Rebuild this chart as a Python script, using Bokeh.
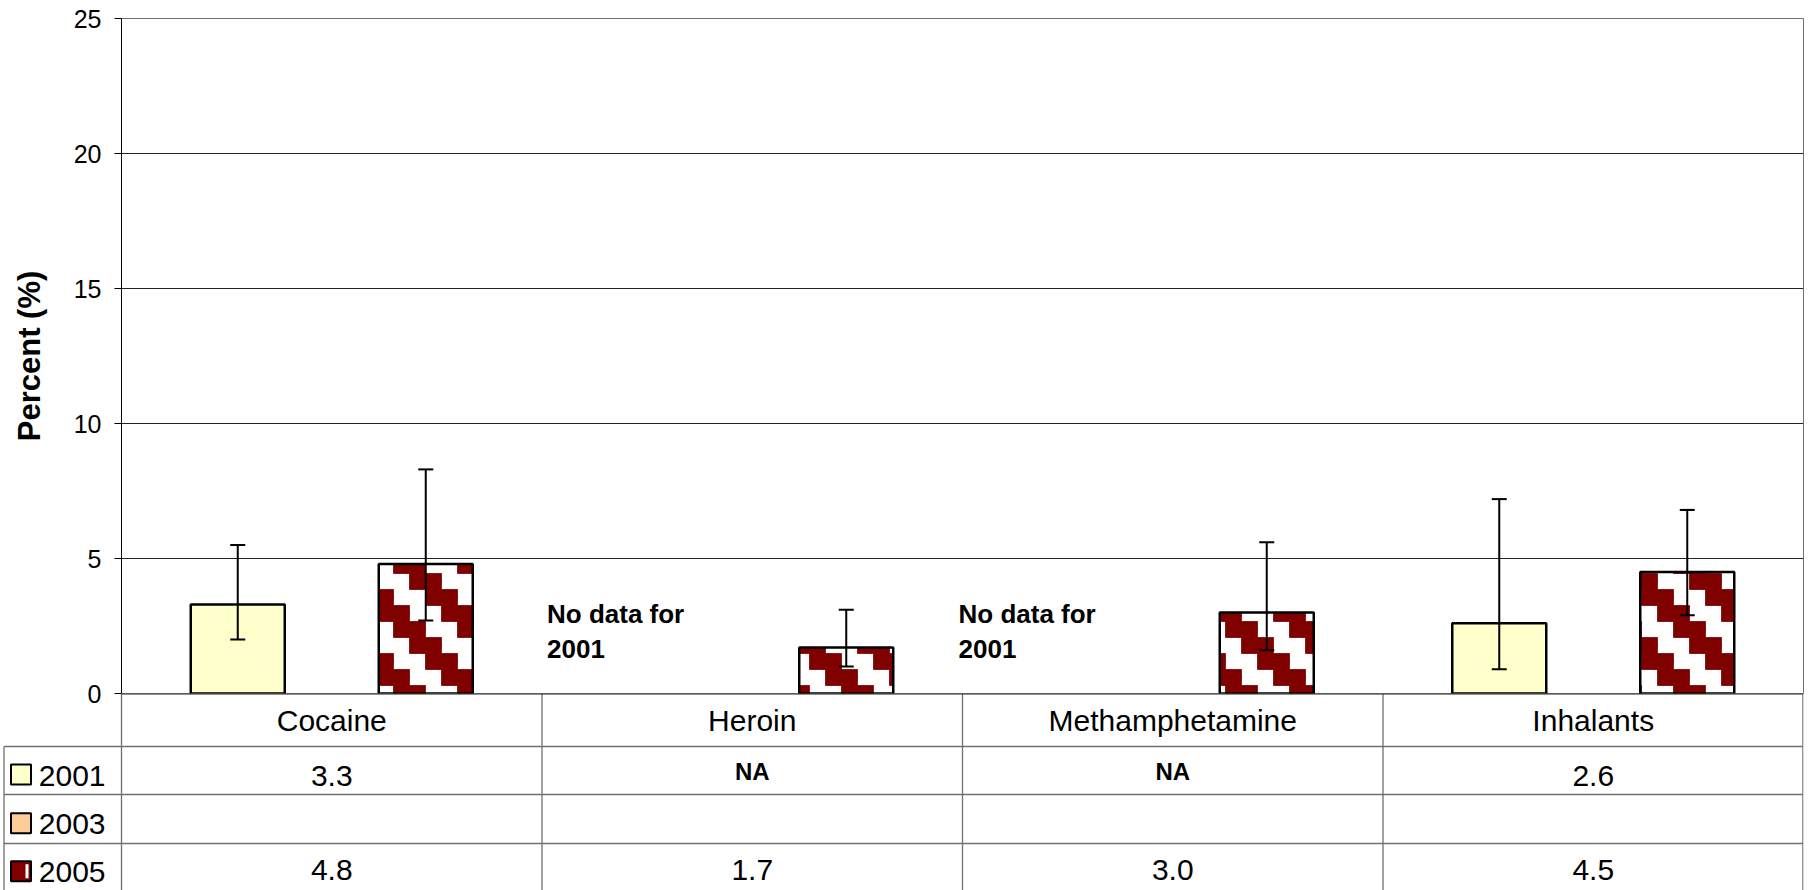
import math

from bokeh.plotting import figure
from bokeh.models import ColumnDataSource, FactorRange, Range1d, FixedTicker, Whisker, TeeHead
from bokeh.transform import dodge
from bokeh.layouts import column
from bokeh.core.properties import value
from bokeh.embed import file_html
from bokeh.resources import INLINE

# ---------------- data ----------------
categories = ["Cocaine", "Heroin", "Methamphetamine", "Inhalants"]
years = ["2001", "2003", "2005"]
pct_2001 = [3.3, None, None, 2.6]
pct_2003 = [None, None, None, None]
pct_2005 = [4.8, 1.7, 3.0, 4.5]
lower_2001 = [2.0, None, None, 0.9]
upper_2001 = [5.5, None, None, 7.2]
lower_2005 = [2.7, 1.0, 1.6, 2.9]
upper_2005 = [8.3, 3.1, 5.6, 6.8]
no_data_categories = ["Heroin", "Methamphetamine"]
no_data_year = "2001"
y_ticks = [0, 5, 10, 15, 20, 25]

# ---------------- style / layout ----------------
FONT = "Liberation Sans"
year_colors = ["#FFFFCC", "#FFCC99", "#800000"]
HATCH_COLOR = "#800000"
GRID_COLOR = "#222222"
TABLE_LINE = "#707070"
W = 1811
ZERO_Y = 693           # page y of the zero line
BELOW = 14             # room under the chart frame for the "0" tick label
CHART_H = ZERO_Y + BELOW
TABLE_H = 890 - ZERO_Y
LEFT = 121
RIGHT = 8
TOP = 18
PX_PER_UNIT = (ZERO_Y - TOP) / 25.0
CAT_PX = (W - LEFT - RIGHT) / len(categories)
BAR_PX = 94
BAR_W = BAR_PX / CAT_PX
SERIES_OFF = 94 / CAT_PX
TEXT_DY = 9.0   # compensation for renderer baseline placement (px)
# stepped-diagonal fill pattern of the 2005 series (page-anchored 16px cells)
CELL = 16
PAT_X0 = 9
PAT_Y0 = 573

p = figure(width=W, height=CHART_H, x_range=FactorRange(*categories, range_padding=0),
           y_range=Range1d(0, 25), x_axis_location=None,
           min_border_left=LEFT, min_border_right=RIGHT, min_border_top=TOP, min_border_bottom=BELOW,
           toolbar_location=None, output_backend="svg", outline_line_color=TABLE_LINE,
           frame_align=False)
p.xgrid.grid_line_color = None
p.ygrid.ticker = FixedTicker(ticks=y_ticks)
p.ygrid.grid_line_color = GRID_COLOR
p.ygrid.grid_line_width = 1
ax = p.yaxis[0]
ax.ticker = FixedTicker(ticks=y_ticks)
ax.minor_tick_line_color = None
ax.major_tick_in = 0
ax.major_tick_out = 7
ax.major_tick_line_color = "black"
ax.axis_line_color = "black"
ax.major_label_text_font = FONT
ax.major_label_text_font_size = "25px"
ax.major_label_text_color = "black"
ax.major_label_standoff = 13
ax.axis_label = "Percent (%)"
ax.axis_label_text_font = FONT
ax.axis_label_text_font_style = "bold"
ax.axis_label_text_font_size = "31px"
ax.axis_label_text_color = "black"
ax.axis_label_standoff = 24


def keep(cats, vals, lo, hi):
    d = dict(cat=[], v=[], lo=[], hi=[])
    for c, v, l, h in zip(cats, vals, lo, hi):
        if v is not None:
            d["cat"].append(c); d["v"].append(v); d["lo"].append(l); d["hi"].append(h)
    return ColumnDataSource(d)


src01 = keep(categories, pct_2001, lower_2001, upper_2001)
src05 = keep(categories, pct_2005, lower_2005, upper_2005)


def stair_cells(vals, off):
    """Dark runs of the stepped diagonal fill, clipped to each bar (synthetic x, data y)."""
    d = dict(left=[], right=[], top=[], bottom=[])
    for ci, v in enumerate(vals):
        if v is None:
            continue
        cx = LEFT + (ci + 0.5 + off) * CAT_PX
        x0, x1 = cx - BAR_PX / 2, cx + BAR_PX / 2
        y0, y1 = ZERO_Y - v * PX_PER_UNIT, ZERO_Y
        for r in range(math.floor((y0 - PAT_Y0) / CELL), math.floor((y1 - PAT_Y0) / CELL) + 1):
            cy0 = max(PAT_Y0 + CELL * r, y0)
            cy1 = min(PAT_Y0 + CELL * (r + 1), y1)
            if cy1 <= cy0:
                continue
            runs = []
            for c in range(math.floor((x0 - PAT_X0) / CELL), math.floor((x1 - PAT_X0) / CELL) + 1):
                if (c - r) % 4 not in (1, 2):
                    continue
                cx0 = max(PAT_X0 + CELL * c, x0)
                cx1 = min(PAT_X0 + CELL * (c + 1), x1)
                if cx1 <= cx0:
                    continue
                if runs and abs(runs[-1][1] - cx0) < 1e-9:
                    runs[-1][1] = cx1
                else:
                    runs.append([cx0, cx1])
            for a, b in runs:
                d["left"].append((a - LEFT) / CAT_PX)
                d["right"].append((b - LEFT) / CAT_PX)
                d["top"].append((ZERO_Y - cy0) / PX_PER_UNIT)
                d["bottom"].append((ZERO_Y - cy1) / PX_PER_UNIT)
    return ColumnDataSource(d)


p.vbar(x=dodge("cat", -SERIES_OFF, range=p.x_range), top="v", width=BAR_W, bottom=0,
       source=src01, fill_color=year_colors[0], line_color="black", line_width=2.5)
p.vbar(x=dodge("cat", SERIES_OFF, range=p.x_range), top="v", width=BAR_W, bottom=0,
       source=src05, fill_color="white", line_color=None)
p.quad(left="left", right="right", top="top", bottom="bottom", source=stair_cells(pct_2005, SERIES_OFF),
       fill_color=HATCH_COLOR, line_color=HATCH_COLOR, line_width=0.8)
p.vbar(x=dodge("cat", SERIES_OFF, range=p.x_range), top="v", width=BAR_W, bottom=0,
       source=src05, fill_color=None, line_color="black", line_width=2.5)

for src, off in ((src01, -SERIES_OFF), (src05, SERIES_OFF)):
    w = Whisker(source=src, base=dodge("cat", off, range=p.x_range), upper="hi", lower="lo",
                dimension="height", line_color="black", line_width=2, level="overlay",
                upper_head=TeeHead(size=15, line_width=2, line_color="black"),
                lower_head=TeeHead(size=15, line_width=2, line_color="black"))
    p.add_layout(w)

note_dx_px = [5, -4]
note_line1_y = (ZERO_Y - 622.3 + TEXT_DY) / PX_PER_UNIT
note_line2_y = (ZERO_Y - 657.3 + TEXT_DY) / PX_PER_UNIT
for cat, dx in zip(no_data_categories, note_dx_px):
    s = ColumnDataSource(dict(cat=[cat, cat], y=[note_line1_y, note_line2_y],
                              t=["No data for", no_data_year]))
    p.text(x=dodge("cat", -0.5 + dx / CAT_PX, range=p.x_range), y="y", text="t", source=s,
           text_font=value(FONT), text_font_style="bold", text_font_size="26px",
           text_color="black", text_align="left", text_baseline="alphabetic")

# ---------------- data table below (overlaps the chart's bottom border) ----------------
# table y units: pixels below the zero line
t = figure(width=W, height=TABLE_H, x_range=Range1d(-LEFT / CAT_PX, len(categories)),
           y_range=Range1d(TABLE_H, 0), x_axis_type=None, y_axis_type=None,
           min_border_left=0, min_border_right=RIGHT, min_border_top=0, min_border_bottom=0,
           toolbar_location=None, output_backend="svg", outline_line_color=None,
           background_fill_color=None, border_fill_color=None,
           frame_align=False, styles={"margin-top": f"-{BELOW}px"})

row_lines = [53, 101, 150]
left_edge = (3.5 - LEFT) / CAT_PX
right_edge = len(categories) - 0.6 / CAT_PX
vx = list(range(len(categories))) + [right_edge]
t.segment(x0=vx, y0=[0] * len(vx), x1=vx, y1=[TABLE_H + 2] * len(vx), line_color=TABLE_LINE, line_width=1.3)
t.segment(x0=[left_edge], y0=[row_lines[0]], x1=[left_edge], y1=[TABLE_H + 2], line_color=TABLE_LINE, line_width=1.3)
t.segment(x0=[left_edge] * 3, y0=row_lines, x1=[right_edge] * 3, y1=row_lines, line_color=TABLE_LINE, line_width=1.3)
t.segment(x0=[0], y0=[0.5], x1=[right_edge], y1=[0.5], line_color=GRID_COLOR, line_width=1)

centers = [i + 0.5 for i in range(len(categories))]
t.text(x=centers, y=[36.3 - TEXT_DY] * 4, text=categories, text_font=value(FONT), text_font_size="30px",
       text_color="black", text_align="center", text_baseline="alphabetic")

row_baselines = [91.3, 139.7, 185.3]
na_baseline_shift = -4.3
for vals, base in zip([pct_2001, pct_2003, pct_2005], row_baselines):
    xs, ts, xn = [], [], []
    for c, v in zip(centers, vals):
        if v is not None:
            xs.append(c); ts.append(f"{v:.1f}")
        elif vals is not pct_2003:
            xn.append(c)
    if xs:
        t.text(x=xs, y=[base - TEXT_DY] * len(xs), text=ts, text_font=value(FONT), text_font_size="30px",
               text_color="black", text_align="center", text_baseline="alphabetic")
    if xn:
        t.text(x=xn, y=[base + na_baseline_shift - TEXT_DY] * len(xn), text=["NA"] * len(xn),
               text_font=value(FONT), text_font_style="bold", text_font_size="24px",
               text_color="black", text_align="center", text_baseline="alphabetic")

# legend keys in the left column
key_px = 20
key_x = (20.5 - LEFT) / CAT_PX
text_x = (38.3 - LEFT) / CAT_PX
legend_baselines = [91.3, 139.7, 187.7]
key_centers = [81, 129.7, 177.7]
t.rect(x=[key_x] * 3, y=key_centers, width=key_px / CAT_PX, height=key_px,
       fill_color=year_colors, line_color="black", line_width=2)
t.rect(x=[key_x + 6 / CAT_PX], y=[key_centers[2]], width=3 / CAT_PX, height=key_px - 6,
       fill_color="white", line_color=None)
t.text(x=[text_x] * 3, y=[b - TEXT_DY for b in legend_baselines], text=years, text_font=value(FONT),
       text_font_size="30px", text_color="black", text_align="left", text_baseline="alphabetic")

layout = column(p, t, spacing=0)
open("out.html", "w").write(file_html(layout, INLINE))
